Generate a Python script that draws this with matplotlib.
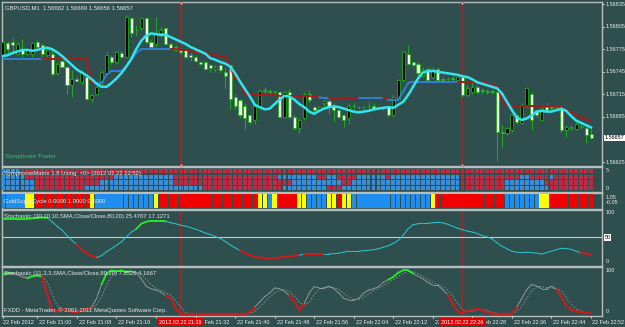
import matplotlib
matplotlib.use('Agg')
import matplotlib.pyplot as plt
import numpy as np
from matplotlib.transforms import blended_transform_factory as btf

plt.rcParams['font.family'] = ['Liberation Sans', 'DejaVu Sans']

# ---------------- data ----------------
OPEN = [156767,156783,156785,156769,156775,156769,156769,156785,156780,156767,
        156769,156743,156760,156751,156727,156736,156731,156738,156709,156716,
        156731,156743,156765,156758,156770,156765,156816,156801,156803,156816,
        156785,156782,156796,156803,156782,156778,156774,156774,156767,156765,
        156758,156758,156754,156749,156754,156745,156754,156712,156707,156700,
        156687,156681,156698,156721,156720,156718,156718,156685,156718,156685,
        156670,156683,156716,156698,156694,156703,156706,156700,156694,156687,
        156683,156700,156698,156698,156700,156700,156698,156698,156698,156687,
        156709,156734,156769,156758,156756,156740,156749,156738,156749,156736,
        156735,156737,156734,156738,156714,156718,156725,156721,156720,156719,
        156718,156665,156663,156667,156687,156677,156700,156716,156694,156681,
        156698,156698,156698,156696,156667,156670,156669,156672,156670,156662]
HIGH = [156787,156786,156791,156784,156789,156776,156785,156787,156783,156776,
        156774,156758,156762,156754,156747,156738,156747,156740,156716,156727,
        156747,156771,156767,156773,156772,156820,156818,156807,156818,156818,
        156787,156818,156805,156805,156784,156780,156776,156776,156770,156767,
        156760,156760,156756,156754,156756,156752,156756,156716,156709,156703,
        156689,156703,156722,156725,156722,156720,156720,156720,156722,156687,
        156683,156718,156721,156700,156700,156708,156712,156703,156696,156689,
        156703,156703,156700,156700,156705,156703,156700,156700,156700,156714,
        156736,156773,156780,156760,156758,156751,156751,156751,156751,156738,
        156738,156740,156740,156742,156727,156731,156727,156723,156722,156722,
        156720,156674,156672,156689,156689,156703,156725,156718,156696,156698,
        156703,156700,156701,156700,156674,156674,156678,156674,156672,156669]
LOW = [156765,156770,156769,156767,156762,156767,156765,156776,156765,156765,
       156740,156741,156750,156716,156712,156731,156729,156707,156705,156714,
       156727,156742,156756,156756,156763,156763,156791,156793,156800,156783,
       156776,156778,156791,156780,156774,156772,156769,156763,156760,156758,
       156754,156747,156745,156745,156745,156724,156696,156696,156683,156667,
       156676,156676,156696,156714,156716,156716,156683,156683,156683,156667,
       156663,156681,156705,156689,156692,156698,156689,156678,156683,156672,
       156676,156696,156696,156696,156696,156694,156696,156694,156685,156685,
       156707,156732,156754,156751,156740,156738,156732,156736,156732,156732,
       156732,156732,156732,156712,156712,156716,156716,156716,156716,156716,
       156627,156645,156661,156665,156676,156675,156698,156667,156685,156679,
       156692,156694,156696,156665,156658,156668,156667,156669,156650,156656]
CLOSE = [156785,156775,156780,156782,156769,156774,156783,156778,156769,156774,
         156742,156756,156752,156727,156736,156733,156745,156709,156714,156725,
         156745,156767,156758,156771,156765,156818,156796,156800,156816,156785,
         156778,156796,156800,156782,156776,156774,156771,156765,156765,156760,
         156756,156749,156750,156751,156747,156740,156709,156700,156687,156683,
         156678,156700,156720,156720,156718,156718,156685,156718,156685,156670,
         156681,156716,156707,156694,156698,156706,156700,156694,156685,156681,
         156700,156699,156698,156698,156699,156696,156698,156698,156687,156712,
         156734,156771,156756,156754,156743,156747,156734,156749,156734,156734,
         156735,156735,156738,156714,156723,156725,156718,156719,156718,156718,
         156665,156663,156670,156687,156678,156701,156723,156681,156688,156696,
         156694,156697,156698,156667,156672,156672,156676,156672,156661,156657]
MA = [156766,156767,156770,156772,156774,156774,156773,156774,156776,156777,
      156775,156771,156766,156760,156754,156748,156744,156740,156735,156729,
      156725,156725,156730,156736,156743,156752,156762,156775,156786,156793,
      156796,156795,156794,156794,156791,156788,156785,156782,156778,156775,
      156772,156769,156763,156761,156758,156756,156752,156743,156732,156722,
      156712,156701,156698,156695,156696,156702,156708,156713,156712,156708,
      156702,156698,156692,156689,156693,156696,156698,156699,156698,156696,
      156694,156692,156691,156692,156693,156695,156696,156697,156698,156697,
      156701,156705,156714,156725,156736,156744,156746,156746,156745,156744,
      156743,156742,156741,156739,156738,156735,156731,156729,156727,156725,
      156723,156716,156705,156694,156684,156681,156683,156687,156692,156693,
      156692,156692,156694,156696,156693,156686,156680,156677,156674,156671]
TREND = [156762]*9 + [156762]*9 + [156730]*2 + [156730,156741,156746,156746,156746,
         156752,156761,156770] + [156775]*7 + [156775,156774,156774,156773,156771,
         156770,156770,156768,156767,156766,156765,156752,156736,156734] + \
        [156714]*7 + [156713]*7 + [156711]*2 + [156710]*2 + [156710]*6 + \
        [156710]*5 + [156708]*3 + [156719,156730] + [156732]*10 + \
        [156732,156732,156731,156731,156731,156729,156727,156726,156708] + \
        [156699]*11 + [156698,156694,156691,156688,156684,156682,156680]
# 1 = red (resistance), 0 = blue (support)
TREND_DIR = [0]*9 + [1]*11 + [0]*15 + [1]*30 + [0]*2 + [1]*6 + [0]*5 + [1] + \
            [0]*14 + [1]*27

MATRIX_ROWS = [  # run-lengths per row, top to bottom
    [('b', 4), ('r', 116)],
    [('b', 5), ('r', 18), ('b', 12), ('r', 21), ('b', 7), ('b', 1), ('r', 2), ('b', 2),
     ('r', 4), ('b', 6), ('r', 1), ('b', 14), ('r', 12), ('b', 2), ('r', 4), ('b', 1), ('r', 8)],
    [('b', 7), ('r', 13), ('b', 15), ('r', 24), ('b', 10), ('r', 2), ('b', 22), ('r', 9),
     ('b', 8), ('r', 10)],
    [('b', 7), ('r', 10), ('b', 24), ('r', 16), ('b', 9), ('r', 3), ('b', 24), ('r', 9),
     ('b', 9), ('r', 9)],
]
CYCLE_RUNS = [('b', 5), ('y', 2), ('r', 11), ('y', 1), ('b', 12), ('y', 1), ('r', 20),
              ('y', 2), ('b', 1), ('y', 1), ('r', 4), ('y', 2), ('b', 4), ('y', 2), ('r', 1),
              ('y', 2), ('b', 16), ('y', 1), ('r', 14), ('b', 7), ('y', 2), ('r', 9)]

STOCH30 = [87,87,87,87,88,88,89,90,91,90, 82,73,65,54,44,35,25,18,12,9,
           13,21,27,34,41,51,61,67,78,82, 84,84,84,83,80,78,75,73,70,67,
           63,59,56,52,48,42,35,29,23,18, 14,10,9,7,7,8,9,10,12,13,
           14,16,16,16,16,16,16,17,18,20, 22,22,22,23,24,25,27,30,33,38,
           44,54,68,76,78,79,79,80,81,80, 77,73,69,66,63,61,58,54,51,47,
           39,32,27,22,20,19,20,19,18,16, 19,22,25,28,27,26,22,19,17,14]
STOCH30_STATE = [('g', 10), ('c', 6), ('r', 4), ('c', 8), ('g', 6), ('c', 15), ('r', 12),
                 ('c', 1), ('r', 4), ('c', 52), ('r', 2)]

STOCH11_K = [91,95,95,90,85,82,87,89,85, 44,9,6,12,9,5,4,8,12,16, 36,68,
             93,100,98,100,97,98,95, 81,64,58,55,50,42,
             36,12,0,0,0,0,0,0,0,0,0,0,0,0,0,0,4,16,
             28,40,48,60,58,52,42, 28,9,24,
             48,63,60,60,64,58,48,36,32,32,36,48,55,58,63,73,79,
             85,95,100,100,93, 87,81,73,66,66,56,44,
             24,6,1,8,9,12,8,4,1,0,0,0,1,16,
             36,56,68,64,58,58,64,56, 40,17,9,6,5,2,2]
STOCH11_D = [88,91,94,93,90,86,85,86,87,73, 46,20,9,9,9,6,6,8,12,21,
             40,66,87,97,99,98,98,97,91,80, 68,59,54,49,43,30,16,4,0,0,
             0,0,0,0,0,0,0,0,0,0, 1,7,16,28,39,49,55,57,51,41,
             26,20,27,45,57,61,61,61,57,47, 39,33,33,39,46,54,59,65,72,79,
             86,93,98,98,93,87,80,73,68,63, 55,41,25,10,5,6,10,10,8,4,
             2,0,0,0,6,18,36,53,63,63, 60,60,59,53,38,22,11,7,4,3]
STOCH11_STATE = [('g', 3), ('n', 3), ('g', 3), ('r', 10), ('n', 2), ('g', 6), ('n', 7),
                 ('r', 18), ('n', 7), ('r', 3), ('n', 17), ('g', 5), ('n', 7), ('r', 14),
                 ('n', 8), ('r', 7)]

PRICE_TICKS = [1.56835, 1.56805, 1.56775, 1.56745, 1.56715, 1.56685, 1.56625]
LAST_PRICE = 1.56657
TIME_POS = [0, 7, 15, 23, 31, 39, 47, 55, 63, 71, 79, 87, 95, 103, 111, 119]
TIME_LABELS = ['22 Feb 2012', '22 Feb 21:00', '22 Feb 21:08', '22 Feb 21:16', '22 Feb 21:24',
               '22 Feb 21:32', '22 Feb 21:40', '22 Feb 21:48', '22 Feb 21:56', '22 Feb 22:04',
               '22 Feb 22:12', '22 Feb 22:20', '22 Feb 22:28', '22 Feb 22:36', '22 Feb 22:44',
               '22 Feb 22:52']
VLINE_POS = [36, 93]
VLINE_LABELS = ['2012.02.22 21:29', '2012.02.22 22:26']

# ---------------- style ----------------
BG = '#2F4F4F'
FG = '#E8E8E8'
SPINE = '#B8BEBE'
GREEN = '#1FA81F'
FS = 4.2
FSR = 4.0
FST = 4.0
W, H = 625, 327
N = len(CLOSE)
idx = np.arange(N)
XMIN, XMAX = (2 - 2.7) / 4.944, (602 - 2.7) / 4.944

fig = plt.figure(figsize=(W / 100, H / 100), dpi=100)
fig.patch.set_facecolor(BG)


def axpx(y0, y1, ylim):
    ax = fig.add_axes([2 / W, 1 - y1 / H, 600 / W, (y1 - y0) / H])
    ax.set_facecolor(BG)
    ax.set_xlim(XMIN, XMAX)
    ax.set_ylim(*ylim)
    ax.set_xticks([])
    ax.set_yticks([])
    for s in ax.spines.values():
        s.set_color(SPINE)
        s.set_linewidth(1.0)
    return ax


def expand(runs):
    out = []
    for col, n in runs:
        out += [col] * n
    return out


def vlines_all(ax):
    for p in VLINE_POS:
        ax.axvline(p, color='#B22222', lw=1.1, zorder=2)


def right_label(ax, yfrac, text, boxed=False, tick=False):
    kw = dict(transform=ax.transAxes, fontsize=FSR, va='center', ha='left', clip_on=False)
    if tick:
        ax.plot([1.0015, 1.004], [yfrac, yfrac], transform=ax.transAxes, color=FG,
                lw=0.6, clip_on=False)
    if boxed:
        ax.text(1.0045, yfrac, text, color='black',
                bbox=dict(facecolor='white', edgecolor='none', pad=0.5), **kw)
    else:
        ax.text(1.0055, yfrac, text, color=FG, **kw)


def colored_line(ax, y, states, cmap, lw_map, z=5):
    for i in range(len(y) - 1):
        st = states[i + 1]
        ax.plot([i, i + 1], [y[i], y[i + 1]], color=cmap[st], lw=lw_map[st],
                solid_capstyle='round', zorder=z)


# ---------------- main price panel ----------------
o = np.array(OPEN) / 1e5
h = np.array(HIGH) / 1e5
l = np.array(LOW) / 1e5
c = np.array(CLOSE) / 1e5
PLO, PHI = 1.566197, 1.568378
ax = axpx(2, 166, (PLO, PHI))
vlines_all(ax)
bull = c >= o
ax.vlines(idx, l, h, color=GREEN, lw=0.8, zorder=3)
body_bot = np.minimum(o, c)
body_h = np.maximum(np.abs(c - o), 0.000008)
ax.bar(idx, body_h, bottom=body_bot, width=0.62,
       color=np.where(bull, '#050a05', '#F0F8E4'), edgecolor=GREEN, linewidth=0.6, zorder=4)
tr = np.array(TREND) / 1e5
colored_line(ax, tr, TREND_DIR, {1: '#A51C1C', 0: '#2F7FD0'}, {1: 1.4, 0: 1.4}, z=5)
ax.plot(idx, np.array(MA) / 1e5, color='#33E3EE', lw=1.8, zorder=6)
for t in PRICE_TICKS:
    right_label(ax, (t - PLO) / (PHI - PLO), f'{t:.5f}', tick=True)
right_label(ax, (LAST_PRICE - PLO) / (PHI - PLO), f'{LAST_PRICE:.5f}', boxed=True)
for p in VLINE_POS:
    ax.plot([p, p], [0.008, 0.992], transform=btf(ax.transData, ax.transAxes), ls='none',
            marker='s', ms=1.8, mfc='white', mec='#B22222', mew=0.4, zorder=7, clip_on=False)
ax.text(0.005, 0.965, 'GBPUSD,M1  1.56662 1.56669 1.56656 1.56657', transform=ax.transAxes,
        fontsize=FS, color=FG, va='center', ha='left')
ax.text(0.005, 0.057, 'Symphonie Trader', transform=ax.transAxes, fontsize=FS + 0.3,
        color='#2CC36B', va='center', ha='left')

# ---------------- SymphonieMatrix ----------------
ax2 = axpx(167, 192, (-0.79, 5.79))
ROW_Y = [4.72, 3.2, 1.75, 0.28]
MCOL = {'r': '#BE2B45', 'b': '#3A8FDD'}
for ry, runs in zip(ROW_Y, MATRIX_ROWS):
    cols = [MCOL[s] for s in expand(runs)]
    ax2.bar(idx, 1.15, bottom=ry - 0.575, width=0.78, color=cols, linewidth=0, zorder=3)
for p in VLINE_POS:
    ax2.axvline(p, color='#B22222', lw=0.9, ls=(0, (1, 1)), zorder=4)
ax2.text(0.003, 0.72, 'SymphonieMatrix 1.8 Using  <0> (2012.02.22 22:52)', transform=ax2.transAxes,
         fontsize=FS, color=FG, va='center', ha='left', zorder=6)
right_label(ax2, (5 + 0.79) / 6.58, '5')
right_label(ax2, (0 + 0.79) / 6.58, '0')

# ---------------- GoldSuperCycle ----------------
ax3 = axpx(193, 209, (-0.05, 1.05))
CCOL = {'b': '#1E8FF0', 'y': '#FFFF00', 'r': '#F00000'}
ax3.bar(idx, 1.0, bottom=0, width=0.86, color=[CCOL[s] for s in expand(CYCLE_RUNS)],
        linewidth=0, zorder=3)
ax3.text(0.003, 0.5, 'GoldSuperCycle 0.0000 1.0000 0.0000', transform=ax3.transAxes,
         fontsize=FS, color=FG, va='center', ha='left', zorder=6)
right_label(ax3, 0.72, '1.05')
right_label(ax3, 0.38, '-0.05')

# ---------------- Stochastic 30 ----------------
ax4 = axpx(210, 266, (-8.2, 106.1))
vlines_all(ax4)
ax4.axhline(50, color='#C8CCCC', lw=0.8, zorder=2)
colored_line(ax4, np.array(STOCH30, float), expand(STOCH30_STATE),
             {'g': '#22EE22', 'c': '#2BC7CF', 'r': '#C41E1E'},
             {'g': 1.3, 'c': 0.7, 'r': 1.5})
ax4.text(0.003, 0.89, 'Stochastic (30,10,10,SMA,Close/Close,80,20) 25.4767 17.1271',
         transform=ax4.transAxes, fontsize=FS, color=FG, va='center', ha='left', zorder=6)
right_label(ax4, (100 + 8.2) / 114.3, '100')
right_label(ax4, (50 + 8.2) / 114.3, '50', boxed=True)
right_label(ax4, (0 + 8.2) / 114.3, '0')

# ---------------- Stochastic 11 ----------------
ax5 = axpx(267, 316, (-4.6, 108.0))
vlines_all(ax5)
ax5.plot(idx, STOCH11_D, color='#8E9A9A', lw=0.6, ls=(0, (2, 2)), zorder=3)
colored_line(ax5, np.array(STOCH11_K, float), expand(STOCH11_STATE),
             {'g': '#22EE22', 'n': '#9AA4A4', 'r': '#C41E1E'},
             {'g': 1.3, 'n': 0.6, 'r': 1.6})
ax5.text(0.003, 0.87, 'Stochastic (11,3,3,SMA,Close/Close,80,20) 7.8526 4.1667',
         transform=ax5.transAxes, fontsize=FS, color=FG, va='center', ha='left', zorder=6)
ax5.text(0.003, 0.12, 'FXDD - MetaTrader, \u00a9 2001-2011 MetaQuotes Software Corp.',
         transform=ax5.transAxes, fontsize=FS, color=FG, va='center', ha='left', zorder=6)
right_label(ax5, (100 + 4.6) / 112.6, '100')
right_label(ax5, (0 + 4.6) / 112.6 + 0.05, '0')

# ---------------- time axis ----------------
axt = fig.add_axes([2 / W, 0, 600 / W, 11 / H])
axt.set_facecolor(BG)
axt.set_xlim(XMIN, XMAX)
axt.set_ylim(0, 1)
axt.axis('off')
for p, lab in zip(TIME_POS, TIME_LABELS):
    axt.plot([p, p], [0.78, 1.0], color=FG, lw=0.5)
    off = 0.05 if p == 0 else (0.15 if p == TIME_POS[-1] else 0.4)
    axt.text(p + off, 0.45, lab, fontsize=FST, color=FG, va='center', ha='left', clip_on=False)
for p, lab in zip(VLINE_POS, VLINE_LABELS):
    axt.text(p, 0.45, lab, fontsize=FST, color='white', va='center', ha='center', zorder=8,
             bbox=dict(facecolor='#E00000', edgecolor='none', pad=1.4))

fig.savefig('out.png', dpi=100, facecolor=BG)
